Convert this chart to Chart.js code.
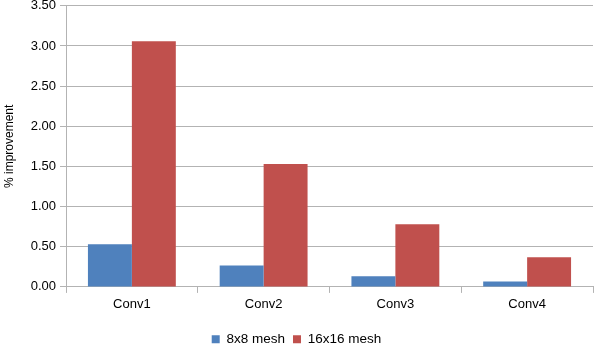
<!DOCTYPE html>
<html>
<head>
<meta charset="utf-8">
<script src="https://cdn.jsdelivr.net/npm/chart.js@4/dist/chart.umd.min.js"></script>
<style>
html,body{margin:0;padding:0;background:#fff;overflow:hidden;}
#wrap{width:594px;height:344px;position:relative;overflow:hidden;}
#c{position:absolute;left:0;top:-6px;}
</style>
</head>
<body>
<div id="wrap"><canvas id="c" width="594" height="362"></canvas></div>
<script>
const categories = ["Conv1", "Conv2", "Conv3", "Conv4"];
const mesh8 = [0.53, 0.265, 0.133, 0.066];
const mesh16 = [3.06, 1.53, 0.78, 0.37];
const seriesNames = ["8x8 mesh", "16x16 mesh"];

const font = {family: "'Liberation Sans', Arial, sans-serif", size: 13};

new Chart(document.getElementById('c'), {
  type: 'bar',
  data: {
    labels: categories,
    datasets: [
      {label: seriesNames[0], data: mesh8, backgroundColor: '#4f81bd', borderWidth: 0},
      {label: seriesNames[1], data: mesh16, backgroundColor: '#c0504d', borderWidth: 0}
    ]
  },
  options: {
    responsive: false,
    animation: false,
    devicePixelRatio: 1,
    categoryPercentage: 0.667,
    barPercentage: 1.0,
    layout: {padding: {top: 5, right: 1, left: 0, bottom: 0}},
    plugins: {
      legend: {
        position: 'bottom',
        labels: {boxWidth: 8, boxHeight: 8, font: {family: font.family, size: 13.5}, color: '#000', padding: 8}
      },
      tooltip: {enabled: false}
    },
    scales: {
      x: {
        afterFit: (s) => { s.height += 8; },
        grid: {display: true, drawOnChartArea: false, drawTicks: true, tickLength: 6, color: '#b3b3b3', offset: true},
        border: {display: true, color: '#b3b3b3', width: 1},
        ticks: {font: font, color: '#000', padding: 4}
      },
      y: {
        min: 0, max: 3.5,
        afterFit: (s) => { s.width = 66; },
        grid: {color: '#b3b3b3', tickLength: 6},
        border: {display: true, color: '#b3b3b3', width: 1},
        ticks: {stepSize: 0.5, font: font, color: '#000', padding: 4,
                callback: (v) => v.toFixed(2)},
        title: {display: true, text: '% improvement', font: {family: font.family, size: 12}, color: '#000', padding: 2}
      }
    }
  }
});
</script>
</body>
</html>
